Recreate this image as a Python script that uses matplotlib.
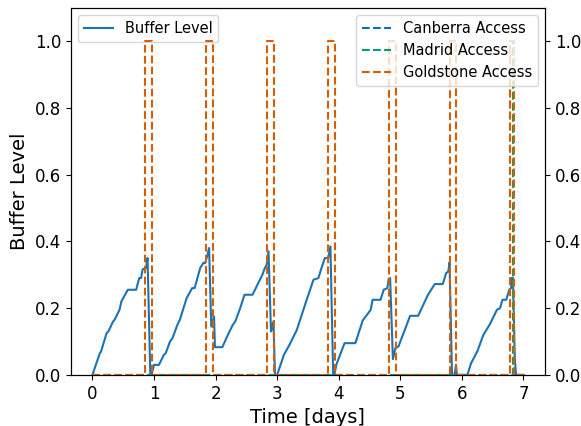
import matplotlib.pyplot as plt

# buffer level
t_buf = [0.00, 0.12, 0.14, 0.23, 0.26, 0.335, 0.36, 0.44, 0.47, 0.575, 0.71, 0.76, 0.79, 0.815, 0.87, 0.895,
         0.94, 0.96, 1.00, 1.08,
         1.16, 1.19, 1.26, 1.30, 1.38, 1.42, 1.53, 1.62, 1.66, 1.75, 1.80, 1.83, 1.87, 1.895,
         1.93, 1.975, 1.99, 2.11,
         2.20, 2.28, 2.32, 2.40, 2.47, 2.60, 2.68, 2.76, 2.80, 2.83, 2.86,
         2.90, 2.94, 2.965, 3.00,
         3.11, 3.20, 3.32, 3.40, 3.48, 3.59, 3.67, 3.72, 3.775, 3.83, 3.865,
         3.91, 3.93, 3.96,
         4.095, 4.27, 4.39, 4.52, 4.55, 4.68, 4.73, 4.79, 4.81, 4.835,
         4.88, 4.92, 4.97,
         5.16, 5.29, 5.45, 5.56, 5.69, 5.745, 5.78, 5.80,
         5.84, 5.88, 5.905, 5.92, 6.09,
         6.15, 6.25, 6.35, 6.45, 6.57, 6.62, 6.66, 6.72, 6.77, 6.80, 6.81, 6.83,
         6.86, 6.88, 7.00]
buf = [0.0, 0.065, 0.07, 0.125, 0.13, 0.16, 0.165, 0.195, 0.22, 0.255, 0.255, 0.29, 0.29, 0.316, 0.32, 0.35,
       0.0, 0.0, 0.03, 0.03,
       0.06, 0.065, 0.10, 0.11, 0.15, 0.165, 0.23, 0.26, 0.26, 0.32, 0.335, 0.335, 0.36, 0.38,
       0.145, 0.175, 0.083, 0.083,
       0.12, 0.15, 0.16, 0.20, 0.24, 0.24, 0.27, 0.30, 0.32, 0.33, 0.37,
       0.13, 0.16, 0.0, 0.0,
       0.06, 0.09, 0.135, 0.18, 0.225, 0.285, 0.29, 0.32, 0.35, 0.35, 0.385,
       0.0, 0.0, 0.03,
       0.095, 0.095, 0.163, 0.195, 0.225, 0.225, 0.255, 0.26, 0.287, 0.29,
       0.047, 0.08, 0.085,
       0.177, 0.177, 0.24, 0.272, 0.272, 0.305, 0.31, 0.337,
       0.0, 0.0, 0.03, 0.0, 0.0,
       0.035, 0.07, 0.12, 0.15, 0.195, 0.20, 0.225, 0.225, 0.255, 0.26, 0.29, 0.29,
       0.05, 0.0, 0.0]

# ground station access windows (start, end) in days
canberra_windows = []
madrid_windows = [(6.78, 6.83)]
goldstone_windows = [(0.855, 0.97), (1.848, 1.96), (2.83, 2.95), (3.82, 3.94),
                     (4.81, 4.93), (5.80, 5.91), (6.78, 6.84)]
t_end = 7.0


def access_signal(windows):
    t, v = [0.0], [0]
    for s, e in windows:
        t += [s, s, e, e]
        v += [0, 1, 1, 0]
    t.append(t_end)
    v.append(0)
    return t, v


fig, ax1 = plt.subplots(figsize=(5.81, 4.26), dpi=100)
fig.subplots_adjust(left=0.122, right=0.938, top=0.982, bottom=0.12)

ax1.plot(t_buf, buf, color='#1a74b4', linewidth=1.5, label='Buffer Level')
ax1.set_ylim(0, 1.1)
ax1.set_xlabel('Time [days]', fontsize=14)
ax1.set_ylabel('Buffer Level', fontsize=14)
ax1.tick_params(labelsize=12)
ax1.legend(loc='upper left', fontsize=10.5)

ax2 = ax1.twinx()
for name, win, col in [('Canberra Access', canberra_windows, '#0173b2'),
                       ('Madrid Access', madrid_windows, '#029e73'),
                       ('Goldstone Access', goldstone_windows, '#d55e00')]:
    t, v = access_signal(win)
    ax2.plot(t, v, '--', color=col, linewidth=1.5, label=name)
ax2.set_ylim(0, 1.1)
ax2.tick_params(labelsize=12)
ax2.legend(loc='upper right', fontsize=10.5)

plt.savefig('out.png', dpi=100)
